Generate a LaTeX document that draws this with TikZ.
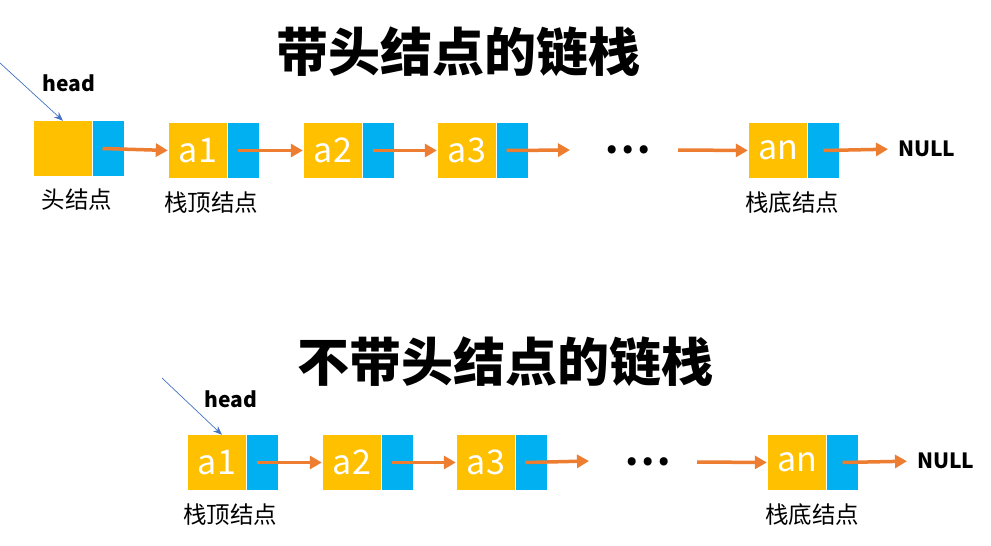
\documentclass[tikz,border=0pt]{standalone}
\usepackage{fontspec}
\setmainfont{Noto Sans CJK SC}
\newfontfamily\cjk{Noto Sans CJK SC}
\usetikzlibrary{arrows.meta}
\definecolor{yel}{HTML}{FFC000}
\definecolor{blu}{HTML}{00B0F0}
\definecolor{ora}{HTML}{ED7D31}
\definecolor{hblue}{HTML}{4472C4}
\newcommand{\boxtxt}[1]{\raisebox{-3pt}{#1}}
\tikzset{
  ybox/.style={fill=yel, minimum width=58pt, minimum height=55pt, inner sep=0pt, text=white, font=\cjk\fontsize{34}{34}\selectfont},
  bbox/.style={fill=blu, minimum width=31pt, minimum height=55pt, inner sep=0pt},
  link/.style={draw=ora, line width=3.5pt, -{Triangle[length=12pt,width=13pt]}, shorten >=1pt},
  nlink/.style={link, shorten >=10pt},
  hlink/.style={draw=hblue, line width=0.7pt, -{Stealth[length=9pt,width=7pt]}},
  lab/.style={font=\cjk\fontsize{23.5}{23.5}\selectfont, inner sep=0pt},
  bold/.style={font=\cjk\bfseries\fontsize{21}{21}\selectfont, inner sep=0pt},
  title/.style={font=\cjk\bfseries\fontsize{52}{52}\selectfont, inner sep=0pt},
  dots/.style={font=\cjk\bfseries\fontsize{38}{38}\selectfont, inner sep=0pt, anchor=base west}
}
\begin{document}
\begin{tikzpicture}[x=1pt,y=-1pt]
\useasboundingbox[fill=white] (0,0) rectangle (991,546);
% ---------- top ----------
\node[title] (t1) at (458,52) {带头结点的链栈};
\node[ybox] (hy) at (63,148.5) {};
\node[bbox] (hb) at (108.5,148.5) {};
\node[ybox] (y1) at (198,150.5) {\boxtxt{a1}};
\node[bbox] (b1) at (243.5,150.5) {};
\node[ybox] (y2) at (333,150.5) {\boxtxt{a2}};
\node[bbox] (b2) at (378.5,150.5) {};
\node[ybox] (y3) at (467,150.5) {\boxtxt{a3}};
\node[bbox] (b3) at (512.5,150.5) {};
\node[ybox] (yn) at (778,150.5) {\boxtxt{an}};
\node[bbox] (bn) at (823.5,150.5) {};
\node[dots] (d1) at (605,153) {.\hspace{3pt}.\hspace{3pt}.};
\node[bold, anchor=west] (n1) at (898,149) {NULL};
\coordinate (c1) at (571,150);
\coordinate (c2) at (678,150);
\draw[link] ([xshift=-6pt]hb.center) -- (y1.west);
\draw[link] ([xshift=-6pt]b1.center) -- (y2.west);
\draw[link] ([xshift=-6pt]b2.center) -- (y3.west);
\draw[link] ([xshift=-6pt]b3.center) -- (c1);
\draw[link] (c2) -- (yn.west);
\draw[nlink] (bn.center) -- (n1.west);
\node[bold] (h1) at (69,83) {head};
\coordinate (hs1) at (0,63);
\draw[hlink] (hs1) -- (hy.north);
\node[lab] (l1) at (77,200) {头结点};
\node[lab] (l2) at (211,203) {栈顶结点};
\node[lab] (l3) at (792,203) {栈底结点};
% ---------- bottom ----------
\node[title] (t2) at (505,362) {不带头结点的链栈};
\node[ybox] (p1) at (217,462.5) {\boxtxt{a1}};
\node[bbox] (q1) at (262.5,462.5) {};
\node[ybox] (p2) at (352,462.5) {\boxtxt{a2}};
\node[bbox] (q2) at (397.5,462.5) {};
\node[ybox] (p3) at (486,462.5) {\boxtxt{a3}};
\node[bbox] (q3) at (531.5,462.5) {};
\node[ybox] (pn) at (797,462.5) {\boxtxt{an}};
\node[bbox] (qn) at (842.5,462.5) {};
\node[dots] (d2) at (625,465) {.\hspace{3pt}.\hspace{3pt}.};
\node[bold, anchor=west] (n2) at (917,461) {NULL};
\coordinate (e1) at (590,461);
\coordinate (e2) at (697,462);
\draw[link] ([xshift=-6pt]q1.center) -- (p2.west);
\draw[link] ([xshift=-6pt]q2.center) -- (p3.west);
\draw[link] ([xshift=-6pt]q3.center) -- (e1);
\draw[link] (e2) -- (pn.west);
\draw[nlink] (qn.center) -- (n2.west);
\node[bold] (h2) at (231,399) {head};
\coordinate (hs2) at (162,378);
\draw[hlink] (hs2) -- ([xshift=5pt]p1.north);
\node[lab] (l4) at (230,515) {栈顶结点};
\node[lab] (l5) at (812,515) {栈底结点};
\end{tikzpicture}
\end{document}
